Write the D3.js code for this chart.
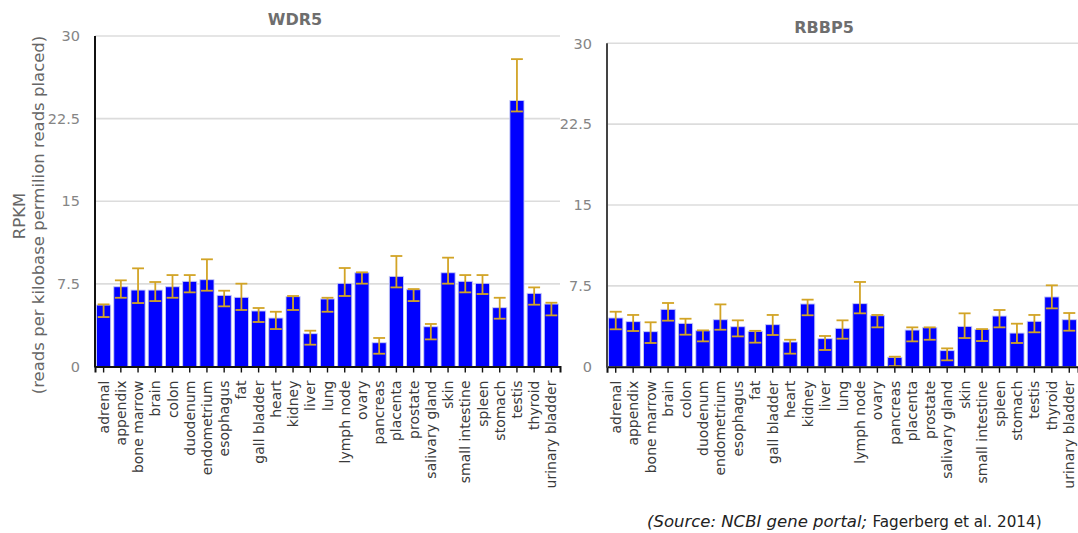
<!DOCTYPE html>
<html>
<head>
<meta charset="utf-8">
<script src="https://cdn.jsdelivr.net/npm/d3@7"></script>
<style>
  html, body { margin: 0; padding: 0; background: #fff; }
  svg { display: block; font-family: "DejaVu Sans", sans-serif; }
</style>
</head>
<body>
<svg id="chart" width="1078" height="533"></svg>
<script>
// Tissue expression (RPKM) for two genes, with error range per tissue
const tissues = ["adrenal", "appendix", "bone marrow", "brain", "colon", "duodenum",
  "endometrium", "esophagus", "fat", "gall bladder", "heart", "kidney", "liver", "lung",
  "lymph node", "ovary", "pancreas", "placenta", "prostate", "salivary gland", "skin",
  "small intestine", "spleen", "stomach", "testis", "thyroid", "urinary bladder"];

const wdr5 = [5.58, 7.24, 6.94, 6.94, 7.24, 7.73, 7.88, 6.46, 6.28, 5.04, 4.40, 6.34, 2.98,
  6.13, 7.55, 8.51, 2.16, 8.18, 6.97, 3.61, 8.51, 7.73, 7.55, 5.34, 24.15, 6.64, 5.67];
const wdr5High = [5.64, 7.82, 8.91, 7.67, 8.30, 8.30, 9.73, 6.88, 7.52, 5.31, 4.97, 6.40, 3.25,
  6.24, 8.94, 8.55, 2.59, 10.03, 7.03, 3.86, 9.88, 8.30, 8.30, 6.24, 27.9, 7.18, 5.79];
const wdr5Low = [4.49, 6.24, 5.76, 5.94, 6.24, 6.73, 6.88, 5.46, 5.13, 4.04, 3.40, 5.13, 1.98,
  4.97, 6.40, 7.52, 1.16, 7.18, 5.94, 2.46, 7.52, 6.73, 6.58, 4.34, 23.15, 5.61, 4.64];

const rbbp5 = [4.52, 4.18, 3.25, 5.32, 4.02, 3.34, 4.36, 3.71, 3.28, 3.90, 2.29, 5.82, 2.60,
  3.56, 5.85, 4.73, 0.87, 3.40, 3.62, 1.49, 3.74, 3.46, 4.70, 3.12, 4.21, 6.47, 4.36];
const rbbp5High = [5.10, 4.80, 4.12, 5.91, 4.45, 3.37, 5.78, 4.30, 3.33, 4.80, 2.50, 6.22, 2.85,
  4.30, 7.86, 4.80, 0.93, 3.65, 3.65, 1.70, 4.95, 3.49, 5.26, 3.99, 4.80, 7.55, 4.98];
const rbbp5Low = [3.47, 3.31, 2.20, 4.27, 2.97, 2.35, 3.43, 2.81, 2.23, 2.94, 1.21, 4.77, 1.55,
  2.60, 4.95, 3.65, 0.05, 2.35, 2.50, 0.59, 2.66, 2.38, 3.65, 2.20, 3.19, 5.41, 3.34];

const yTicks = [0, 7.5, 15, 22.5, 30];

const svg = d3.select("#chart");

function panel(opts) {
  const { title, values, high, low, x0, x1, yTop, yBottom, titleX, titleY, axisColor } = opts;

  const x = d3.scaleBand().domain(tissues).range([x0, x1]).paddingInner(0.18).paddingOuter(0.09);
  const y = d3.scaleLinear().domain([0, 30]).range([yBottom, yTop]);

  const g = svg.append("g");

  // horizontal gridlines
  g.selectAll("line.grid").data(yTicks.filter(t => t > 0)).join("line")
    .attr("class", "grid")
    .attr("x1", x0).attr("x2", x1)
    .attr("y1", d => y(d)).attr("y2", d => y(d))
    .attr("stroke", "#dcdcdc").attr("stroke-width", 1.6);

  // y tick labels
  g.selectAll("text.ytick").data(yTicks).join("text")
    .attr("class", "ytick")
    .attr("x", x0 - 15).attr("y", d => y(d))
    .attr("dy", "0.36em")
    .attr("text-anchor", "end")
    .attr("font-size", 14.5)
    .attr("fill", "#858585")
    .text(d => d);

  // bars
  g.selectAll("rect.bar").data(tissues).join("rect")
    .attr("class", "bar")
    .attr("x", d => x(d))
    .attr("width", x.bandwidth())
    .attr("y", (d, i) => y(values[i]))
    .attr("height", (d, i) => y(0) - y(values[i]))
    .attr("fill", "#0000ff")
    .attr("stroke", "#c8ccf4").attr("stroke-width", 0.9);

  // error bars
  const capW = x.bandwidth() * 0.42;
  const eb = g.selectAll("g.err").data(tissues).join("g")
    .attr("class", "err")
    .attr("stroke", "#d2a426").attr("stroke-width", 1.8).attr("fill", "none");
  eb.append("line")
    .attr("x1", d => x(d) + x.bandwidth() / 2).attr("x2", d => x(d) + x.bandwidth() / 2)
    .attr("y1", (d, i) => y(high[i])).attr("y2", (d, i) => y(low[i]));
  eb.append("line")
    .attr("x1", d => x(d) + x.bandwidth() / 2 - capW).attr("x2", d => x(d) + x.bandwidth() / 2 + capW)
    .attr("y1", (d, i) => y(high[i])).attr("y2", (d, i) => y(high[i]));
  eb.append("line")
    .attr("x1", d => x(d) + x.bandwidth() / 2 - capW).attr("x2", d => x(d) + x.bandwidth() / 2 + capW)
    .attr("y1", (d, i) => y(low[i])).attr("y2", (d, i) => y(low[i]));

  // x axis with category labels
  const xAxis = g.append("g")
    .attr("transform", `translate(0,${yBottom})`)
    .call(d3.axisBottom(x).tickSize(6).tickSizeOuter(6));
  xAxis.select(".domain").attr("stroke", "#111").attr("stroke-width", 2);
  xAxis.selectAll(".tick line").attr("stroke", "#111").attr("stroke-width", 1.4);
  xAxis.selectAll(".tick text")
    .attr("font-family", "DejaVu Sans, sans-serif")
    .attr("font-size", 14)
    .attr("fill", "#3a3a3a")
    .attr("text-anchor", "end")
    .attr("x", 0).attr("y", 0).attr("dy", "0.36em")
    .attr("transform", "translate(0,14) rotate(-90)");

  // vertical axis line
  g.append("line")
    .attr("x1", x0).attr("x2", x0)
    .attr("y1", yTop).attr("y2", yBottom + 1)
    .attr("stroke", axisColor).attr("stroke-width", 2);

  // title
  g.append("text")
    .attr("x", titleX).attr("y", titleY)
    .attr("text-anchor", "middle")
    .attr("font-size", 16).attr("font-weight", "bold")
    .attr("fill", "#6e6e6e")
    .text(title);
}

panel({ title: "WDR5", values: wdr5, high: wdr5High, low: wdr5Low,
  x0: 95, x1: 560, yTop: 36, yBottom: 366.5, titleX: 295, titleY: 25, axisColor: "#111" });

panel({ title: "RBBP5", values: rbbp5, high: rbbp5High, low: rbbp5Low,
  x0: 607, x1: 1078, yTop: 43.3, yBottom: 366.7, titleX: 824, titleY: 33, axisColor: "#444" });

// y-axis title
svg.append("text")
  .attr("transform", "translate(25,216) rotate(-90)")
  .attr("text-anchor", "middle")
  .attr("font-size", 16.5).attr("fill", "#666")
  .text("RPKM");
svg.append("text")
  .attr("transform", "translate(44,215) rotate(-90)")
  .attr("text-anchor", "middle")
  .attr("font-size", 16.5).attr("fill", "#666")
  .text("(reads per kilobase permilion reads placed)");

// source note
const src = svg.append("text")
  .attr("x", 647).attr("y", 527)
  .attr("fill", "#222");
src.append("tspan")
  .attr("font-style", "italic").attr("font-size", 16.5)
  .text("(Source: NCBI gene portal; ");
src.append("tspan")
  .attr("font-size", 15.2)
  .text("Fagerberg et al. 2014)");
</script>
</body>
</html>
